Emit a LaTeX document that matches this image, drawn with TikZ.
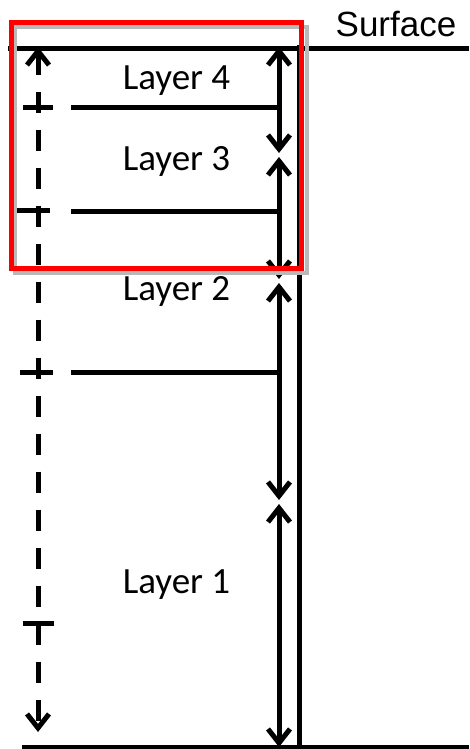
\documentclass[tikz,border=0pt]{standalone}
\usepackage{fontspec}
\setmainfont{Carlito}
\newfontfamily\surfacefont{Liberation Sans}
\usetikzlibrary{arrows.meta,positioning}

\begin{document}
\begin{tikzpicture}[x=1pt,y=-1pt]
	\tikzstyle{Line}	= [line width=5pt, black]
	\tikzstyle{Dim}		= [line width=5pt, {Straight Barb[length=14pt,width=22pt]}-{Straight Barb[length=14pt,width=22pt]}]
	\tikzstyle{Probe}	= [Dim, dash pattern=on 21pt off 17pt]
	\tikzstyle{Tick}	= [line width=5pt]
	\tikzstyle{Layer}	= [font=\fontsize{37}{37}\selectfont, anchor=base, inner sep=0pt]
	\tikzstyle{Frame}	= [line width=5pt, red]
	\tikzstyle{Shadow}	= [line width=4pt, gray!55]

	\useasboundingbox (0,0) rectangle (469,749);

	% surface, bottom and well
	\coordinate (sL) at (8,49);
	\coordinate (sR) at (469,49);
	\coordinate (bL) at (22,747);
	\coordinate (bR) at (469,747);
	\coordinate (wT) at (299,45);
	\coordinate (wB) at (299,749);
	\node (surf) at (396,37) [Layer, font=\surfacefont\fontsize{35}{35}\selectfont] {Surface};

	\draw [-] (sL) to (sR) [Line];
	\draw [-] (bL) to (bR) [Line];
	\draw [-] (wT) to (wB) [Line];

	% layer thickness arrows
	\coordinate (d4t) at (279,47);
	\coordinate (d4b) at (279,153);
	\coordinate (d3t) at (279,157);
	\coordinate (d3b) at (279,279);
	\coordinate (d2t) at (279,283);
	\coordinate (d2b) at (279,500);
	\coordinate (d1t) at (279,504);
	\coordinate (d1b) at (279,747);

	\draw (d4t) to (d4b) [Dim];
	\draw (d3t) to (d3b) [Dim];
	\draw (d2t) to (d2b) [Dim];
	\draw (d1t) to (d1b) [Dim];

	% layer boundaries
	\coordinate (h43) at (71,108);
	\coordinate (h32) at (71,211);
	\coordinate (h21) at (71,372);
	\draw [-] (h43) to (279,108) [Line];
	\draw [-] (h32) to (279,211) [Line];
	\draw [-] (h21) to (279,372) [Line];

	% dashed probe with ticks
	\coordinate (pT) at (38,47);
	\coordinate (pB) at (38,732);
	\draw (pT) to (pB) [Probe];
	\draw [-] (23,108) to (53,108) [Tick];
	\draw [-] (17,210) to (50,210) [Tick];
	\draw [-] (20,372) to (53,372) [Tick];
	\draw [-] (23,623) to (54,623) [Tick];

	% labels
	\node (L4) at (176.5,90) [Layer] {Layer 4};
	\node (L3) at (176.5,170) [Layer] {Layer 3};
	\node (L2) at (176.5,300) [Layer] {Layer 2};
	\node (L1) at (176.5,593) [Layer] {Layer 1};

	% highlight box
	\draw [Shadow] (15,27.5) rectangle (307,273);
	\draw [Frame] (11.5,23) rectangle (301.5,268);
\end{tikzpicture}
\end{document}
